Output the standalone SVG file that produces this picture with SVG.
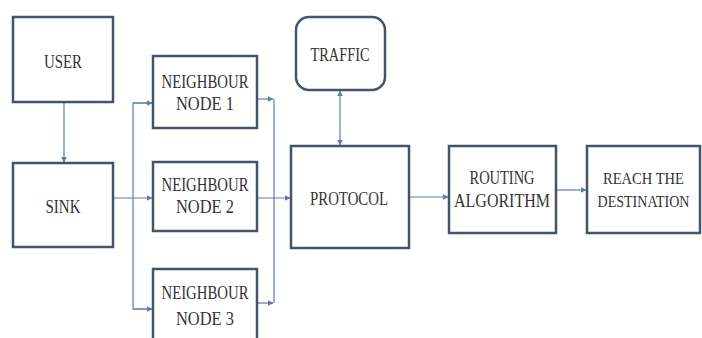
<svg xmlns="http://www.w3.org/2000/svg" width="702" height="338" viewBox="0 0 702 338">
<style>
.box{fill:#ffffff;stroke:#44546c;stroke-width:2.5}
.lbl{font-family:"Liberation Serif","DejaVu Serif","Times New Roman",serif;font-size:18px;fill:#333333;text-anchor:middle}
.sm{font-size:16px}
.c{fill:none;stroke:#5b7db3;stroke-width:1.2}
</style>
<defs>
<marker id="ah" viewBox="0 0 10 10" refX="9" refY="5" markerWidth="5" markerHeight="5" orient="auto-start-reverse">
<path d="M0,0 L10,5 L0,10 z" fill="#5b7db3"/>
</marker>
</defs>
<rect width="702" height="338" fill="#ffffff"/>
<g id="connectors">
<line class="c" x1="64" y1="102" x2="64" y2="162" marker-end="url(#ah)"/>
<line class="c" x1="113" y1="198" x2="152" y2="198" marker-end="url(#ah)"/>
<polyline class="c" points="152,103 133,103 133,309 152,309"/>
<line class="c" x1="133" y1="103" x2="152" y2="103" marker-end="url(#ah)"/>
<line class="c" x1="133" y1="309" x2="152" y2="309" marker-end="url(#ah)"/>
<line class="c" x1="257" y1="99" x2="273" y2="99" marker-end="url(#ah)"/>
<line class="c" x1="257" y1="303" x2="273" y2="303" marker-end="url(#ah)"/>
<line class="c" x1="274" y1="99" x2="274" y2="303"/>
<line class="c" x1="257" y1="198" x2="290" y2="198" marker-end="url(#ah)"/>
<line class="c" x1="340" y1="91" x2="340" y2="145" marker-start="url(#ah)" marker-end="url(#ah)"/>
<line class="c" x1="409" y1="197" x2="448" y2="197" marker-end="url(#ah)"/>
<line class="c" x1="556" y1="190" x2="586" y2="190" marker-end="url(#ah)"/>
</g>
<g id="user"><rect class="box" x="13" y="17" width="100" height="85"/><text class="lbl" x="63" y="68" textLength="38" lengthAdjust="spacingAndGlyphs">USER</text></g>
<g id="sink"><rect class="box" x="13" y="163" width="100" height="84"/><text class="lbl" x="63" y="213" textLength="35" lengthAdjust="spacingAndGlyphs">SINK</text></g>
<g id="nn1"><rect class="box" x="153" y="56" width="104" height="72"/><text class="lbl" x="205" y="88" textLength="87" lengthAdjust="spacingAndGlyphs">NEIGHBOUR</text><text class="lbl" x="205" y="110" textLength="58" lengthAdjust="spacingAndGlyphs">NODE 1</text></g>
<g id="nn2"><rect class="box" x="153" y="162" width="104" height="69"/><text class="lbl" x="205" y="191" textLength="87" lengthAdjust="spacingAndGlyphs">NEIGHBOUR</text><text class="lbl" x="205" y="213" textLength="58" lengthAdjust="spacingAndGlyphs">NODE 2</text></g>
<g id="nn3"><rect class="box" x="153" y="269" width="104" height="74"/><text class="lbl" x="205" y="299" textLength="87" lengthAdjust="spacingAndGlyphs">NEIGHBOUR</text><text class="lbl" x="205" y="325" textLength="58" lengthAdjust="spacingAndGlyphs">NODE 3</text></g>
<g id="traffic"><rect class="box" x="296" y="17" width="89" height="73" rx="13" ry="13"/><text class="lbl" x="340" y="61" textLength="59" lengthAdjust="spacingAndGlyphs">TRAFFIC</text></g>
<g id="protocol"><rect class="box" x="291" y="146" width="118" height="102"/><text class="lbl" x="349" y="205" textLength="78" lengthAdjust="spacingAndGlyphs">PROTOCOL</text></g>
<g id="routing"><rect class="box" x="449" y="146" width="107" height="87"/><text class="lbl" x="502" y="184" textLength="65" lengthAdjust="spacingAndGlyphs">ROUTING</text><text class="lbl" x="502" y="207" textLength="96" lengthAdjust="spacingAndGlyphs">ALGORITHM</text></g>
<g id="reach"><rect class="box" x="587" y="146" width="113" height="87"/><text class="lbl sm" x="643.5" y="184" textLength="81" lengthAdjust="spacingAndGlyphs">REACH THE</text><text class="lbl sm" x="643.5" y="207" textLength="92" lengthAdjust="spacingAndGlyphs">DESTINATION</text></g>
</svg>
